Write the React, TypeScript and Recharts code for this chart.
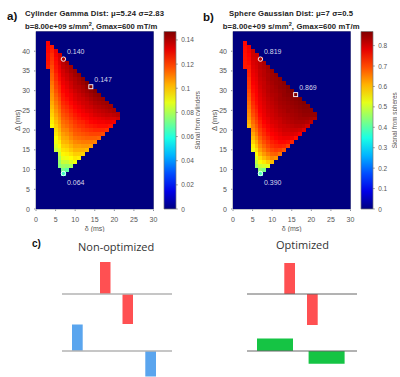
import { Area, AreaChart, Bar, BarChart, Label, ReferenceLine, Scatter, ScatterChart, XAxis, YAxis } from "recharts"

const FONT = "'Liberation Sans', Arial, sans-serif"

const deltaColumns = [3, 4, 5, 6, 7, 8, 9, 10, 11, 12, 13, 14, 15, 16, 17, 18, 19, 20, 21]
const firstDiffusion = [36, 21, 15, 11, 9, 10, 11, 12, 13, 14, 15, 16, 17, 18, 19, 20, 21, 22, 23]
const deltaTicks = [0, 5, 10, 15, 20, 25, 30]
const diffusionTicks = [0, 5, 10, 15, 20, 25, 30, 35, 40]

// one list per delta column, from the lowest diffusion time upward
const cylinderSignal = [
  [.125, .126, .127, .127, .128, .128, .129],
  [.092, .094, .096, .098, .100, .102, .104, .106, .107, .109, .110, .112, .114, .115, .117, .118, .120, .121, .122, .124, .125],
  [.084, .087, .090, .092, .095, .097, .099, .101, .103, .105, .107, .109, .111, .113, .115, .117, .119, .120, .122, .123, .125, .126, .127, .128, .130, .131],
  [.074, .077, .080, .084, .088, .091, .094, .097, .100, .102, .104, .106, .108, .110, .112, .114, .116, .118, .120, .122, .123, .125, .127, .128, .130, .131, .133, .134, .135],
  [.064, .072, .078, .084, .089, .093, .096, .099, .102, .104, .106, .109, .111, .113, .115, .117, .119, .121, .123, .125, .126, .128, .129, .131, .132, .134, .135, .137, .138, .140],
  [.068, .077, .084, .090, .094, .097, .100, .103, .105, .108, .110, .113, .115, .117, .119, .121, .123, .125, .127, .129, .130, .132, .133, .135, .136, .138, .139, .141],
  [.079, .087, .092, .096, .100, .103, .106, .109, .111, .114, .116, .118, .120, .122, .124, .126, .128, .130, .131, .133, .135, .136, .138, .139, .141, .142],
  [.090, .095, .099, .103, .106, .109, .112, .115, .117, .119, .121, .123, .125, .127, .129, .131, .133, .134, .136, .138, .139, .140, .142, .143],
  [.094, .099, .103, .106, .110, .113, .116, .118, .121, .123, .125, .127, .129, .131, .133, .135, .136, .138, .139, .141, .142, .144],
  [.098, .103, .107, .111, .114, .117, .120, .122, .124, .127, .129, .131, .133, .135, .136, .138, .140, .141, .143, .145],
  [.102, .107, .111, .115, .118, .121, .124, .126, .128, .130, .133, .135, .136, .138, .140, .142, .144, .146],
  [.106, .111, .115, .119, .122, .125, .128, .130, .132, .134, .136, .138, .140, .142, .144, .147],
  [.110, .115, .119, .123, .126, .129, .131, .134, .136, .138, .140, .142, .144, .146],
  [.114, .119, .123, .127, .130, .132, .135, .137, .139, .141, .143, .145],
  [.118, .123, .127, .130, .133, .136, .138, .140, .142, .144],
  [.122, .127, .131, .134, .137, .139, .141, .143],
  [.126, .131, .134, .137, .140, .142],
  [.130, .134, .138, .141],
  [.135, .139],
]

const sphereSignal = [
  [.74, .742, .745, .747, .75, .752, .755],
  [.60, .615, .63, .64, .65, .66, .67, .68, .69, .70, .71, .715, .72, .73, .735, .74, .75, .755, .76, .77, .775],
  [.53, .555, .58, .60, .62, .64, .655, .67, .68, .695, .705, .715, .725, .735, .74, .75, .755, .765, .77, .775, .78, .785, .79, .795, .80, .805],
  [.46, .49, .515, .545, .57, .595, .615, .635, .655, .67, .685, .70, .71, .72, .73, .74, .75, .755, .76, .765, .77, .775, .78, .785, .79, .795, .80, .80, .805],
  [.39, .45, .50, .54, .57, .60, .625, .645, .665, .68, .70, .71, .725, .735, .745, .755, .765, .77, .775, .78, .785, .79, .795, .80, .805, .81, .81, .815, .815, .819],
  [.43, .51, .56, .60, .63, .655, .675, .695, .71, .725, .735, .75, .76, .77, .775, .78, .785, .79, .795, .80, .805, .81, .81, .815, .82, .82, .825, .83],
  [.52, .585, .625, .655, .68, .70, .715, .73, .745, .755, .765, .775, .78, .79, .795, .80, .805, .81, .815, .82, .82, .825, .83, .83, .835, .84],
  [.60, .645, .675, .70, .72, .735, .75, .76, .77, .78, .79, .795, .80, .805, .81, .815, .82, .825, .83, .83, .835, .84, .84, .845],
  [.635, .68, .71, .73, .745, .76, .77, .78, .79, .795, .805, .81, .815, .82, .825, .83, .83, .835, .84, .845, .845, .85],
  [.66, .705, .735, .755, .77, .78, .79, .80, .805, .81, .82, .825, .83, .835, .84, .84, .845, .85, .85, .855],
  [.69, .73, .755, .775, .79, .80, .805, .815, .82, .825, .83, .835, .84, .845, .85, .85, .855, .86],
  [.71, .75, .775, .79, .80, .81, .82, .825, .83, .84, .84, .845, .85, .855, .86, .865],
  [.73, .77, .79, .805, .815, .825, .83, .835, .84, .845, .85, .855, .86, .865],
  [.75, .785, .805, .82, .83, .835, .84, .845, .85, .855, .86, .869],
  [.77, .80, .82, .83, .84, .845, .85, .855, .86, .865],
  [.785, .815, .83, .84, .85, .855, .86, .865],
  [.80, .825, .84, .85, .855, .86],
  [.815, .835, .85, .855],
  [.83, .85],
]

const cylinderMarkers = [
  { delta: 7, diff: 38, signal: 0.14, label: "0.140", kind: "circle", above: true },
  { delta: 14, diff: 31, signal: 0.147, label: "0.147", kind: "square", above: true },
  { delta: 7, diff: 9, signal: 0.064, label: "0.064", kind: "circle", above: false },
]
const sphereMarkers = [
  { delta: 7, diff: 38, signal: 0.819, label: "0.819", kind: "circle", above: true },
  { delta: 16, diff: 29, signal: 0.869, label: "0.869", kind: "square", above: true },
  { delta: 7, diff: 9, signal: 0.39, label: "0.390", kind: "circle", above: false },
]

const cylinderBarTicks = [0, 0.02, 0.04, 0.06, 0.08, 0.1, 0.12, 0.14]
const sphereBarTicks = [0, 0.1, 0.2, 0.3, 0.4, 0.5, 0.6, 0.7, 0.8]

const gradientTime = [0, 38, 38, 48.5, 48.5, 60.5, 60.5, 71, 71, 110]
const gradientAmp = [0, 0, 32, 32, 0, 0, -30, -30, 0, 0]
const blueTime = [0, 10, 10, 20.7, 20.7, 83.3, 83.3, 94, 94, 110]
const blueAmp = [0, 0, 26.5, 26.5, 0, 0, -25.5, -25.5, 0, 0]
const optRedTime = [0, 37.3, 37.3, 48, 48, 60, 60, 70.7, 70.7, 110]
const optRedAmp = [0, 0, 31, 31, 0, 0, -31, -31, 0, 0]
const optGreenTime = [0, 10, 10, 46, 46, 61.6, 61.6, 97.6, 97.6, 110]
const optGreenAmp = [0, 0, 12.6, 12.6, 0, 0, -12.7, -12.7, 0, 0]

const jetStops = [0, 0.1, 0.2, 0.3, 0.4, 0.5, 0.6, 0.7, 0.8, 0.9, 1]

const clamp = (v: number) => Math.max(0, Math.min(1, v))
function jet(t: number) {
  const c = (v: number) => Math.round(clamp(v) * 255)
  return `rgb(${c(1.5 - Math.abs(4 * t - 3))},${c(1.5 - Math.abs(4 * t - 2))},${c(1.5 - Math.abs(4 * t - 1))})`
}

const toCells = (cols: number[][]) =>
  cols.flatMap((col, i) => col.map((signal, j) => ({ delta: deltaColumns[i], diff: firstDiffusion[i] + j, signal })))

const PLOT_W = 117.5
const PLOT_H = 177.5
const CELL_W = PLOT_W / 30
const CELL_H = PLOT_H / 45
const AXIS_GRAY = "#8a8f9c"
const TICK_TEXT = "#555"

function XTick({ x, y, payload }: any) {
  return (
    <g>
      <line x1={x} x2={x} y1={y} y2={y - 1.5} stroke={AXIS_GRAY} />
      <text x={x} y={y + 10.5} textAnchor="middle" fontSize={7} fontFamily={FONT} fill={TICK_TEXT}>{payload.value}</text>
    </g>
  )
}

function YTick({ x, y, payload }: any) {
  return (
    <g>
      <line x1={x} x2={x + 1.5} y1={y} y2={y} stroke={AXIS_GRAY} />
      <text x={x - 4} y={y + 2.5} textAnchor="end" fontSize={7} fontFamily={FONT} fill={TICK_TEXT}>{payload.value}</text>
    </g>
  )
}

function BarTick({ x, y, payload }: any) {
  return (
    <g>
      <line x1={x} x2={x - 1.5} y1={y} y2={y} stroke="#444" strokeWidth={0.6} />
      <text x={x + 3.5} y={y + 2.5} fontSize={6.5} fontFamily={FONT} fill={TICK_TEXT}>{payload.value}</text>
    </g>
  )
}

function HeatPanel({ left, cols, markers, max }: any) {
  const cellShape = (p: any) => (
    <rect x={p.cx - CELL_W / 2} y={p.cy - CELL_H / 2} width={CELL_W + 0.2} height={CELL_H + 0.2} shapeRendering="crispEdges" fill={jet(p.payload.signal / max)} />
  )
  const markerShape = (p: any) => {
    const d = p.payload
    const fill = jet(d.signal / max)
    return (
      <g>
        {d.kind === "circle"
          ? <circle cx={p.cx} cy={p.cy} r={2.2} fill={fill} stroke="#fff" strokeWidth={0.9} />
          : <rect x={p.cx - 2} y={p.cy - 2} width={4} height={4} fill={fill} stroke="#fff" strokeWidth={0.9} />}
        <text x={p.cx + 3.5} y={p.cy + (d.above ? -5 : 11)} fontSize={7} fontFamily={FONT} fill="#d5d8ea">{d.label}</text>
      </g>
    )
  }
  return (
    <div style={{ position: "absolute", left, top: 0 }}>
      <ScatterChart width={165} height={232} margin={{ top: 31.5, right: 11.5, bottom: 0, left: 0 }}>
        <XAxis type="number" dataKey="delta" domain={[0, 30]} ticks={deltaTicks} interval={0} height={23} tickSize={0} tickLine={false} stroke={AXIS_GRAY} tick={<XTick />}>
          <Label value="δ (ms)" position="insideBottom" offset={1} style={{ fontSize: 7, fontFamily: FONT, fill: TICK_TEXT }} />
        </XAxis>
        <YAxis type="number" dataKey="diff" domain={[0, 45]} ticks={diffusionTicks} interval={0} width={36} tickSize={0} tickLine={false} stroke={AXIS_GRAY} tick={<YTick />}>
          <Label value="Δ (ms)" angle={-90} position="insideLeft" offset={17} style={{ textAnchor: "middle", fontSize: 7.5, fontFamily: FONT, fill: TICK_TEXT }} />
        </YAxis>
        <ReferenceLine x={30} stroke={AXIS_GRAY} />
        <ReferenceLine y={45} stroke={AXIS_GRAY} />
        <Scatter data={[{ delta: 15, diff: 22.5 }]} isAnimationActive={false} shape={(p: any) => (
          <rect x={p.cx - PLOT_W / 2} y={p.cy - PLOT_H / 2} width={PLOT_W} height={PLOT_H} fill="#00007f" />
        )} />
        <Scatter data={toCells(cols)} isAnimationActive={false} shape={cellShape} />
        <Scatter data={markers} isAnimationActive={false} shape={markerShape} />
      </ScatterChart>
    </div>
  )
}

function ColorBar({ left, id, max, ticks, title }: any) {
  return (
    <div style={{ position: "absolute", left, top: 0 }}>
      <BarChart width={40} height={232} data={[{ name: "bar", value: max }]} barCategoryGap={0} margin={{ top: 31.5, right: 0, bottom: 23, left: 4 }}>
        <defs>
          <linearGradient id={id} x1="0" y1="1" x2="0" y2="0">
            {jetStops.map((s) => <stop key={s} offset={s} stopColor={jet(s)} />)}
          </linearGradient>
        </defs>
        <XAxis dataKey="name" hide />
        <YAxis orientation="right" type="number" domain={[0, max]} ticks={ticks} interval={0} width={24.3} tickSize={0} tickLine={false} axisLine={false} tick={<BarTick />}>
          <Label value={title} angle={-90} position="insideRight" offset={2} style={{ textAnchor: "middle", fontSize: 6.3, fontFamily: FONT, fill: TICK_TEXT }} />
        </YAxis>
        <Bar dataKey="value" fill={`url(#${id})`} stroke="#777" strokeWidth={0.7} isAnimationActive={false} />
      </BarChart>
    </div>
  )
}

function Waveform({ left, top, height, domain, time, amp, fill, lineColor, lineWidth }: any) {
  const points = time.map((t: number, i: number) => ({ t, amp: amp[i] }))
  return (
    <div style={{ position: "absolute", left, top }}>
      <AreaChart width={110} height={height} data={points} margin={{ top: 0, right: 0, bottom: 0, left: 0 }}>
        <XAxis type="number" dataKey="t" domain={[0, 110]} hide />
        <YAxis type="number" domain={domain} hide />
        <Area type="linear" dataKey="amp" fill={fill} fillOpacity={1} stroke="none" dot={false} activeDot={false} isAnimationActive={false} />
        <ReferenceLine y={0} stroke={lineColor} strokeWidth={lineWidth} />
      </AreaChart>
    </div>
  )
}

const titleStyle: any = { position: "absolute", fontFamily: FONT, fontWeight: 700, fontSize: 7.7, color: "#222", whiteSpace: "nowrap", lineHeight: "10px" }
const tagStyle: any = { position: "absolute", fontFamily: FONT, fontWeight: 700, fontSize: 11.5, color: "#111", lineHeight: "12px" }
const headStyle: any = { position: "absolute", fontFamily: "'Open Sans', sans-serif", fontSize: 11, color: "#333", whiteSpace: "nowrap", lineHeight: "12px" }
const supStyle: any = { fontSize: 5.5, verticalAlign: 3, lineHeight: 0 }

export default function App() {
  return (
    <div style={{ position: "absolute", left: 0, top: 0, width: 400, height: 377, overflow: "hidden", background: "#fff" }}>
      <HeatPanel left={0} cols={cylinderSignal} markers={cylinderMarkers} max={0.147} />
      <HeatPanel left={197.3} cols={sphereSignal} markers={sphereMarkers} max={0.869} />
      <ColorBar left={160} id="jetCyl" max={0.147} ticks={cylinderBarTicks} title="Signal from cylinders" />
      <ColorBar left={357} id="jetSph" max={0.869} ticks={sphereBarTicks} title="Signal from spheres" />

      <div style={{ ...tagStyle, left: 7, top: 10 }}>a)</div>
      <div style={{ ...tagStyle, left: 203, top: 11 }}>b)</div>
      <div style={{ ...tagStyle, left: 32, top: 238, fontSize: 10 }}>c)</div>

      <div style={{ ...titleStyle, left: 25, top: 8.5, letterSpacing: 0.17 }}>Cylinder Gamma Dist: μ=5.24 σ=2.83</div>
      <div style={{ ...titleStyle, left: 25, top: 21.5 }}>b=8.00e+09 s/mm<sup style={supStyle}>2</sup>, Gmax=600 mT/m</div>
      <div style={{ ...titleStyle, left: 229, top: 8.5, letterSpacing: 0.13 }}>Sphere Gaussian Dist: μ=7 σ=0.5</div>
      <div style={{ ...titleStyle, left: 222.7, top: 21.5, letterSpacing: 0.15 }}>b=8.00e+09 s/mm<sup style={supStyle}>2</sup>, Gmax=600 mT/m</div>

      <div style={{ ...headStyle, left: 78, top: 241 }}>Non-optimized</div>
      <div style={{ ...headStyle, left: 276, top: 239 }}>Optimized</div>

      <Waveform left={62} top={255} height={80} domain={[-41, 39]} time={gradientTime} amp={gradientAmp} fill="#ff5052" lineColor="#b3b3b3" lineWidth={1.5} />
      <Waveform left={62} top={315} height={62} domain={[-26, 36]} time={blueTime} amp={blueAmp} fill="#5aa5ee" lineColor="#b3b3b3" lineWidth={1.5} />
      <Waveform left={247} top={255} height={80} domain={[-41, 39]} time={optRedTime} amp={optRedAmp} fill="#ff5052" lineColor="#666" lineWidth={1} />
      <Waveform left={247} top={315} height={62} domain={[-26, 36]} time={optGreenTime} amp={optGreenAmp} fill="#15c444" lineColor="#666" lineWidth={1} />
    </div>
  )
}
